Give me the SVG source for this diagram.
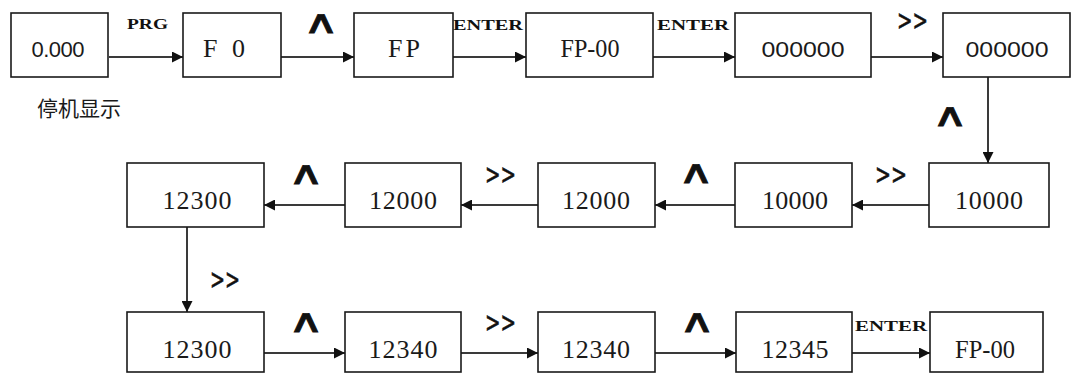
<svg xmlns="http://www.w3.org/2000/svg" width="1080" height="376" viewBox="0 0 1080 376">
<style>
.box{fill:#fff;stroke:#1a1a1a;stroke-width:1.6}
.t{font-family:"Liberation Serif",serif;font-size:26px;fill:#1a1a1a;text-anchor:middle}
.s{font-family:"Liberation Sans",sans-serif;font-size:22px;fill:#1a1a1a;text-anchor:middle}
.k{font-family:"Liberation Serif",serif;font-weight:bold;font-size:15px;fill:#111}
.op{font-family:"DejaVu Sans",sans-serif;font-size:32px;fill:#111;stroke:#111;stroke-width:0.8}
.gg{font-family:"DejaVu Sans",sans-serif;font-size:28px;fill:#111;stroke:#111;stroke-width:0.6}
.cn{font-family:"Noto Sans CJK SC",sans-serif;font-size:21px;fill:#1a1a1a}
.ln{stroke:#3a3a3a;stroke-width:2;fill:none;marker-end:url(#ah)}
</style>
<defs>
<marker id="ah" viewBox="0 0 10 10" refX="10" refY="5" markerWidth="11" markerHeight="11" markerUnits="userSpaceOnUse" orient="auto">
<path d="M0,0 L10,5 L0,10 z" fill="#111"/>
</marker>
<clipPath id="clipTop"><rect x="440" y="17" width="100" height="20"/></clipPath>
</defs>
<rect width="1080" height="376" fill="#fff"/>

<g id="connectors">
<line class="ln" x1="109" y1="57" x2="183" y2="57"/>
<line class="ln" x1="281" y1="57" x2="354" y2="57"/>
<line class="ln" x1="453" y1="57" x2="526" y2="57"/>
<line class="ln" x1="653" y1="57" x2="735" y2="57"/>
<line class="ln" x1="871" y1="57" x2="943" y2="57"/>
<line class="ln" x1="988" y1="77" x2="988" y2="163"/>
<line class="ln" x1="929" y1="205" x2="852" y2="205"/>
<line class="ln" x1="735" y1="205" x2="655" y2="205"/>
<line class="ln" x1="538" y1="205" x2="461" y2="205"/>
<line class="ln" x1="345" y1="205" x2="264" y2="205"/>
<line class="ln" x1="187" y1="227" x2="187" y2="312"/>
<line class="ln" x1="264" y1="353" x2="345" y2="353"/>
<line class="ln" x1="461" y1="353" x2="538" y2="353"/>
<line class="ln" x1="655" y1="353" x2="736" y2="353"/>
<line class="ln" x1="852" y1="353" x2="930" y2="353"/>

<text class="k" x="127" y="29" textLength="41" lengthAdjust="spacingAndGlyphs">PRG</text>
<text class="op" x="303" y="33" textLength="36" lengthAdjust="spacingAndGlyphs">∧</text>
<text class="k" x="453" y="30" textLength="70" lengthAdjust="spacingAndGlyphs" clip-path="url(#clipTop)">ENTER</text>
<text class="k" x="657" y="30" textLength="72" lengthAdjust="spacingAndGlyphs">ENTER</text>
<text class="gg" x="897" y="30" textLength="31" lengthAdjust="spacingAndGlyphs">&gt;&gt;</text>
<text class="op" x="932" y="126" textLength="36" lengthAdjust="spacingAndGlyphs">∧</text>
<text class="op" x="288" y="184" textLength="36" lengthAdjust="spacingAndGlyphs">∧</text>
<text class="gg" x="485" y="184" textLength="31" lengthAdjust="spacingAndGlyphs">&gt;&gt;</text>
<text class="op" x="678" y="183" textLength="36" lengthAdjust="spacingAndGlyphs">∧</text>
<text class="gg" x="875" y="184" textLength="32" lengthAdjust="spacingAndGlyphs">&gt;&gt;</text>
<text class="gg" x="210" y="289" textLength="30" lengthAdjust="spacingAndGlyphs">&gt;&gt;</text>
<text class="op" x="288" y="332" textLength="36" lengthAdjust="spacingAndGlyphs">∧</text>
<text class="gg" x="485" y="332" textLength="31" lengthAdjust="spacingAndGlyphs">&gt;&gt;</text>
<text class="op" x="679" y="332" textLength="36" lengthAdjust="spacingAndGlyphs">∧</text>
<text class="k" x="855" y="331" textLength="72" lengthAdjust="spacingAndGlyphs">ENTER</text>
</g>

<g id="n1"><rect class="box" x="11" y="13" width="97" height="64"/><text class="s" x="58" y="57" textLength="53">0.000</text></g>
<g id="n2"><rect class="box" x="183" y="13" width="98" height="64"/><text class="t" x="224" y="57" textLength="42">F0</text></g>
<g id="n3"><rect class="box" x="354" y="13" width="99" height="64"/><text class="t" x="404" y="57" textLength="32">FP</text></g>
<g id="n4"><rect class="box" x="526" y="13" width="127" height="64"/><text class="t" x="590" y="57" textLength="59" lengthAdjust="spacingAndGlyphs">FP-00</text></g>
<g id="n5"><rect class="box" x="735" y="13" width="136" height="64"/><text class="s" x="803" y="57" font-size="26" textLength="83" lengthAdjust="spacingAndGlyphs">000000</text></g>
<g id="n6"><rect class="box" x="943" y="13" width="127" height="64"/><text class="s" x="1007" y="57" font-size="26" textLength="83" lengthAdjust="spacingAndGlyphs">000000</text></g>
<g id="cap"><text class="cn" x="37" y="116">停机显示</text></g>

<g id="n7"><rect class="box" x="929" y="163" width="120" height="64"/><text class="t" x="989" y="209" textLength="68">10000</text></g>
<g id="n8"><rect class="box" x="735" y="163" width="117" height="64"/><text class="t" x="795" y="209" textLength="66">10000</text></g>
<g id="n9"><rect class="box" x="538" y="163" width="117" height="64"/><text class="t" x="596" y="209" textLength="68">12000</text></g>
<g id="n10"><rect class="box" x="345" y="163" width="116" height="64"/><text class="t" x="403" y="209" textLength="68">12000</text></g>
<g id="n11"><rect class="box" x="127" y="163" width="137" height="64"/><text class="t" x="197" y="209" textLength="69">12300</text></g>

<g id="n12"><rect class="box" x="127" y="312" width="137" height="60"/><text class="t" x="197" y="358" textLength="69">12300</text></g>
<g id="n13"><rect class="box" x="345" y="312" width="116" height="60"/><text class="t" x="403" y="358" textLength="69">12340</text></g>
<g id="n14"><rect class="box" x="538" y="312" width="117" height="60"/><text class="t" x="596" y="358" textLength="68">12340</text></g>
<g id="n15"><rect class="box" x="736" y="312" width="116" height="60"/><text class="t" x="795" y="358" textLength="67">12345</text></g>
<g id="n16"><rect class="box" x="930" y="312" width="113" height="60"/><text class="t" x="985" y="358" textLength="60" lengthAdjust="spacingAndGlyphs">FP-00</text></g>
</svg>
